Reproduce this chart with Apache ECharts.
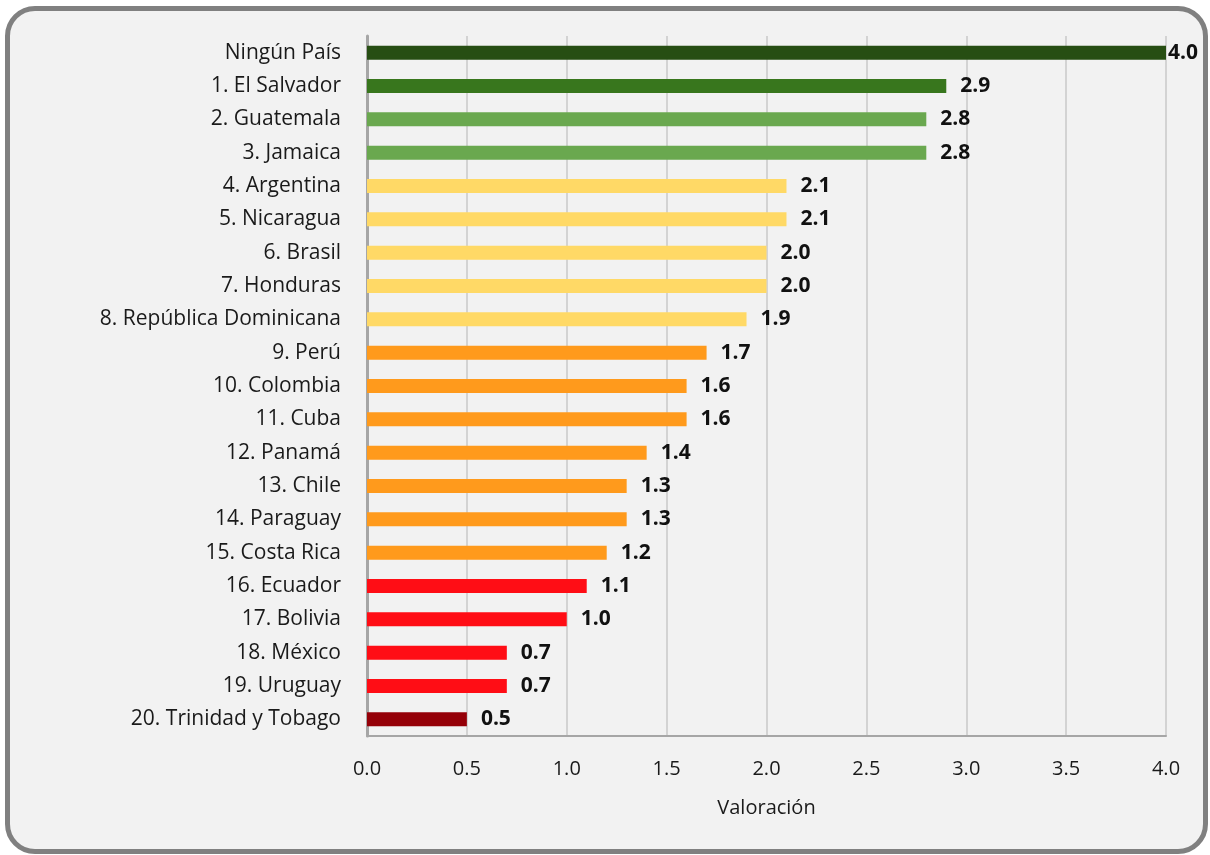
<!DOCTYPE html>
<html>
<head>
<meta charset="utf-8">
<script src="https://cdn.jsdelivr.net/npm/echarts@6/dist/echarts.min.js"></script>
<style>
  html, body { margin: 0; padding: 0; background: #ffffff; }
  #frame {
    position: absolute; left: 5px; top: 6px; width: 1203px; height: 848px;
    border: 5px solid #808080; border-radius: 30px; background: #f2f2f2;
    box-sizing: border-box;
  }
  #main { position: absolute; left: 0; top: 0; width: 1210px; height: 855px; }
</style>
</head>
<body>
<div id="frame"></div>
<div id="main"></div>
<script>
// países en orden de la gráfica (de arriba hacia abajo)
var countries = ['Ningún País', '1. El Salvador', '2. Guatemala', '3. Jamaica', '4. Argentina',
  '5. Nicaragua', '6. Brasil', '7. Honduras', '8. República Dominicana', '9. Perú',
  '10. Colombia', '11. Cuba', '12. Panamá', '13. Chile', '14. Paraguay', '15. Costa Rica',
  '16. Ecuador', '17. Bolivia', '18. México', '19. Uruguay', '20. Trinidad y Tobago'];
var scores = [4.0, 2.9, 2.8, 2.8, 2.1, 2.1, 2.0, 2.0, 1.9, 1.7, 1.6, 1.6, 1.4, 1.3, 1.3, 1.2,
  1.1, 1.0, 0.7, 0.7, 0.5];
var barColors = ['#274e13', '#38761d', '#6aa84f', '#6aa84f', '#ffd966', '#ffd966', '#ffd966',
  '#ffd966', '#ffd966', '#ff9a1c', '#ff9a1c', '#ff9a1c', '#ff9a1c', '#ff9a1c', '#ff9a1c',
  '#ff9a1c', '#ff0d15', '#ff0d15', '#ff0d15', '#ff0d15', '#950008'];
var xTicks = [0, 0.5, 1, 1.5, 2, 2.5, 3, 3.5, 4];

var font = '"Open Sans", Lato, sans-serif';
var myChart = echarts.init(document.getElementById('main'));

var seriesData = [];
for (var i = 0; i < scores.length; i++) {
  seriesData.push({
    value: scores[i],
    itemStyle: { color: barColors[i] },
    label: { distance: i === 0 ? 2 : 14 }
  });
}

var option = {
  backgroundColor: 'transparent',
  animation: false,
  grid: { left: 367, right: 44, top: 36, bottom: 119 },
  xAxis: {
    type: 'value',
    min: xTicks[0],
    max: xTicks[xTicks.length - 1],
    interval: 0.5,
    name: 'Valoración',
    nameLocation: 'middle',
    nameGap: 62,
    nameTextStyle: { fontFamily: font, fontSize: 20, color: '#1a1a1a' },
    axisLine: { show: true, lineStyle: { color: '#a6a6a6', width: 2 } },
    axisTick: { show: false },
    axisLabel: {
      fontFamily: font, fontSize: 20, color: '#1a1a1a', margin: 23,
      formatter: function (v) { return v.toFixed(1); }
    },
    splitLine: { show: true, lineStyle: { color: '#c8c8c8', width: 1.5 } }
  },
  yAxis: {
    type: 'category',
    inverse: true,
    data: countries,
    axisLine: { show: true, lineStyle: { color: '#a6a6a6', width: 3 } },
    axisTick: { show: false },
    axisLabel: { fontFamily: font, fontSize: 21, color: '#1a1a1a', margin: 26 }
  },
  series: [{
    type: 'bar',
    data: seriesData,
    barWidth: 14,
    label: {
      show: true,
      position: 'right',
      fontFamily: font,
      fontSize: 21,
      fontWeight: 'bold',
      color: '#111111',
      formatter: function (p) { return p.value.toFixed(1); }
    }
  }]
};

myChart.setOption(option);
</script>
</body>
</html>
